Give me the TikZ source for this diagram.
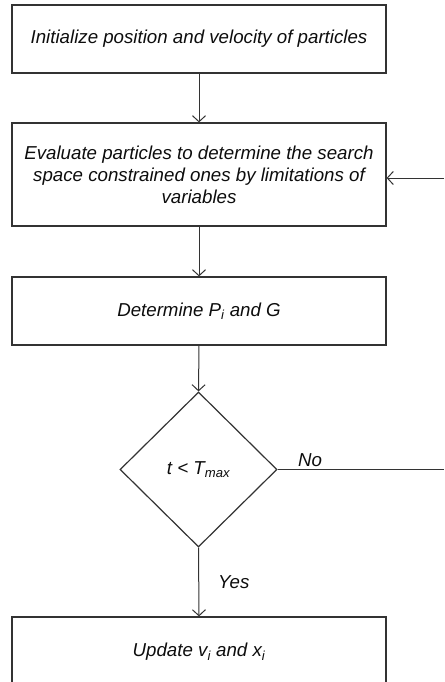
\documentclass[tikz,border=0pt]{standalone}
\usepackage{fontspec}
\setmainfont{Liberation Sans}
\usetikzlibrary{shapes.geometric,arrows.meta}

\newcommand\flowfont{\fontsize{18.7}{22}\selectfont\itshape}
\newcommand\sub[1]{\textsubscript{#1}}

\begin{document}
\begin{tikzpicture}[x=1pt,y=-1pt,
  every node/.style={text=black!95},
  stepbox/.style={draw=black!80, line width=1.2pt, rectangle, inner sep=0pt,
    minimum width=374pt, align=center, font=\flowfont},
  decision/.style={draw=black!80, line width=1.2pt, diamond, inner sep=0pt,
    minimum width=157pt, minimum height=155pt, font=\flowfont},
  flowlabel/.style={font=\flowfont, inner sep=0pt},
  arr/.style={draw=black!80, line width=1pt,
    -{Straight Barb[length=6pt,width=13pt,line width=1pt]}},
  link/.style={draw=black!80, line width=1pt}
]
\useasboundingbox (0,0) rectangle (444,682);
\clip (0,0) rectangle (444,682);

\node[stepbox, minimum height=68pt] (init) at (199,39)
  {Initialize position and velocity of particles};
\node[stepbox, minimum height=103pt] (eval) at (199,174.5)
  {Evaluate particles to determine the search\\
   space constrained ones by limitations of\\
   variables};
\node[stepbox, minimum height=68pt] (best) at (199,311)
  {Determine P\sub{i} and G};
\node[decision] (check) at (198.5,469.5) {t < T\sub{max}};
\node[stepbox, minimum height=70pt] (update) at (199,652)
  {Update v\sub{i} and x\sub{i}};

\coordinate (back) at (444,178);
\coordinate (exit) at (444,469.5);

\draw[arr] (init.south) -- (eval.north);
\draw[arr] (eval.south) -- (best.north);
\draw[arr] (best.south) -- (check.north);
\draw[arr] (check.south) -- (update.north);
\draw[arr] (back) -- (back -| eval.east);
\draw[link] (check.east) -- (exit);

\node[flowlabel, anchor=base west] (no) at (298,466) {No};
\node[flowlabel, anchor=base west] (yes) at (218,588) {Yes};
\end{tikzpicture}
\end{document}
